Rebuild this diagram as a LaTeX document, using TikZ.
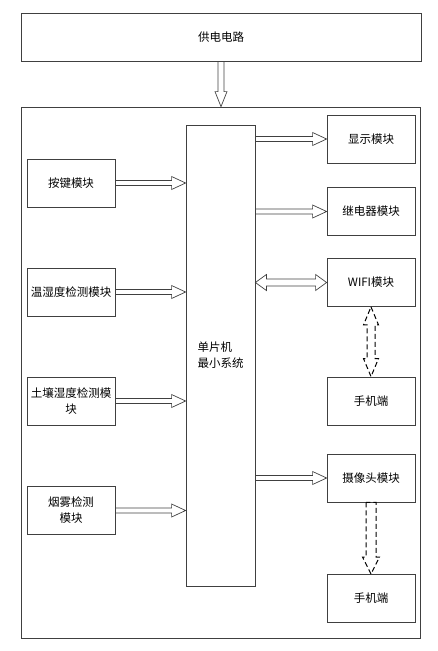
\documentclass[tikz,border=0pt]{standalone}
\usepackage{fontspec}
\setmainfont{Noto Sans CJK SC}
\usetikzlibrary{calc}
\tikzset{
 box/.style={draw=black!75, line width=0.8pt, rectangle, inner sep=1pt, minimum width=88pt, minimum height=48pt, align=center, font=\fontsize{11.5}{16}\selectfont},
 blk/.style={draw=black!75, line width=0.7pt, line join=miter},
 dblk/.style={draw=black, line width=1pt, line join=miter, dash pattern=on 5pt off 3pt},
}
\newcommand\arrR[2]{\draw[blk] let \p1=(#1), \p2=(#2) in (\x1,\y1+2.5pt) -- (\x2-14pt,\y1+2.5pt) -- (\x2-14pt,\y1+6.5pt) -- (\x2,\y1) -- (\x2-14pt,\y1-6.5pt) -- (\x2-14pt,\y1-2.5pt) -- (\x1,\y1-2.5pt) -- cycle;}
\newcommand\arrLR[2]{\draw[blk] let \p1=(#1), \p2=(#2) in (\x1,\y1) -- (\x1+11pt,\y1+8pt) -- (\x1+11pt,\y1+3.5pt) -- (\x2-11pt,\y1+3.5pt) -- (\x2-11pt,\y1+8pt) -- (\x2,\y1) -- (\x2-11pt,\y1-8pt) -- (\x2-11pt,\y1-3.5pt) -- (\x1+11pt,\y1-3.5pt) -- (\x1+11pt,\y1-8pt) -- cycle;}
\newcommand\arrD[6][blk]{\draw[#1] let \p1=(#2), \p2=(#3) in (\x1-#4,\y1) -- (\x1-#4,\y2+#6) -- (\x1-#5,\y2+#6) -- (\x1,\y2) -- (\x1+#5,\y2+#6) -- (\x1+#4,\y2+#6) -- (\x1+#4,\y1) -- cycle;}
\newcommand\arrUD[2]{\draw[dblk] let \p1=(#1), \p2=(#2) in (\x1,\y1) -- (\x1+7.5pt,\y1-18pt) -- (\x1+4pt,\y1-18pt) -- (\x1+4pt,\y2+18pt) -- (\x1+7.5pt,\y2+18pt) -- (\x1,\y2) -- (\x1-7.5pt,\y2+18pt) -- (\x1-4pt,\y2+18pt) -- (\x1-4pt,\y1-18pt) -- (\x1-7.5pt,\y1-18pt) -- cycle;}
\begin{document}
\begin{tikzpicture}[x=1pt,y=-1pt]
\useasboundingbox (0,0) rectangle (438,651);
\node[box, minimum width=400pt] (power) at (221,37) {供电电路};
\node[box, minimum width=399pt, minimum height=531pt] (frame) at (220.5,372.5) {};
\node[box, minimum width=69pt, minimum height=461pt, align=left] (mcu) at (220.5,355.5) {单片机\\最小系统};
\node[box] (key) at (71,183) {按键模块};
\node[box] (th) at (71,292) {温湿度检测模块};
\node[box] (soil) at (71,401) {土壤湿度检测模\\块};
\node[box] (smoke) at (71,510.5) {烟雾检测\\模块};
\node[box] (disp) at (371,139) {显示模块};
\node[box] (relay) at (371,211.5) {继电器模块};
\node[box] (wifi) at (371,282.5) {WIFI模块};
\node[box] (phone1) at (371,401) {手机端};
\node[box] (cam) at (371,478) {摄像头模块};
\node[box] (phone2) at (371,598.5) {手机端};
% power arrow
\arrD{power.south}{frame.north}{3pt}{6pt}{15pt}
% inputs
\arrR{key.east}{key.east -| mcu.west}
\arrR{th.east}{th.east -| mcu.west}
\arrR{soil.east}{soil.east -| mcu.west}
\arrR{smoke.east}{smoke.east -| mcu.west}
% outputs
\arrR{mcu.east |- disp.west}{disp.west}
\arrR{mcu.east |- relay.west}{relay.west}
\arrLR{mcu.east |- wifi.west}{wifi.west}
\arrR{mcu.east |- cam.west}{cam.west}
% dashed
\arrUD{wifi.south}{phone1.north}
\arrD[dblk]{cam.south}{phone2.north}{5pt}{8.5pt}{17pt}
\end{tikzpicture}
\end{document}
